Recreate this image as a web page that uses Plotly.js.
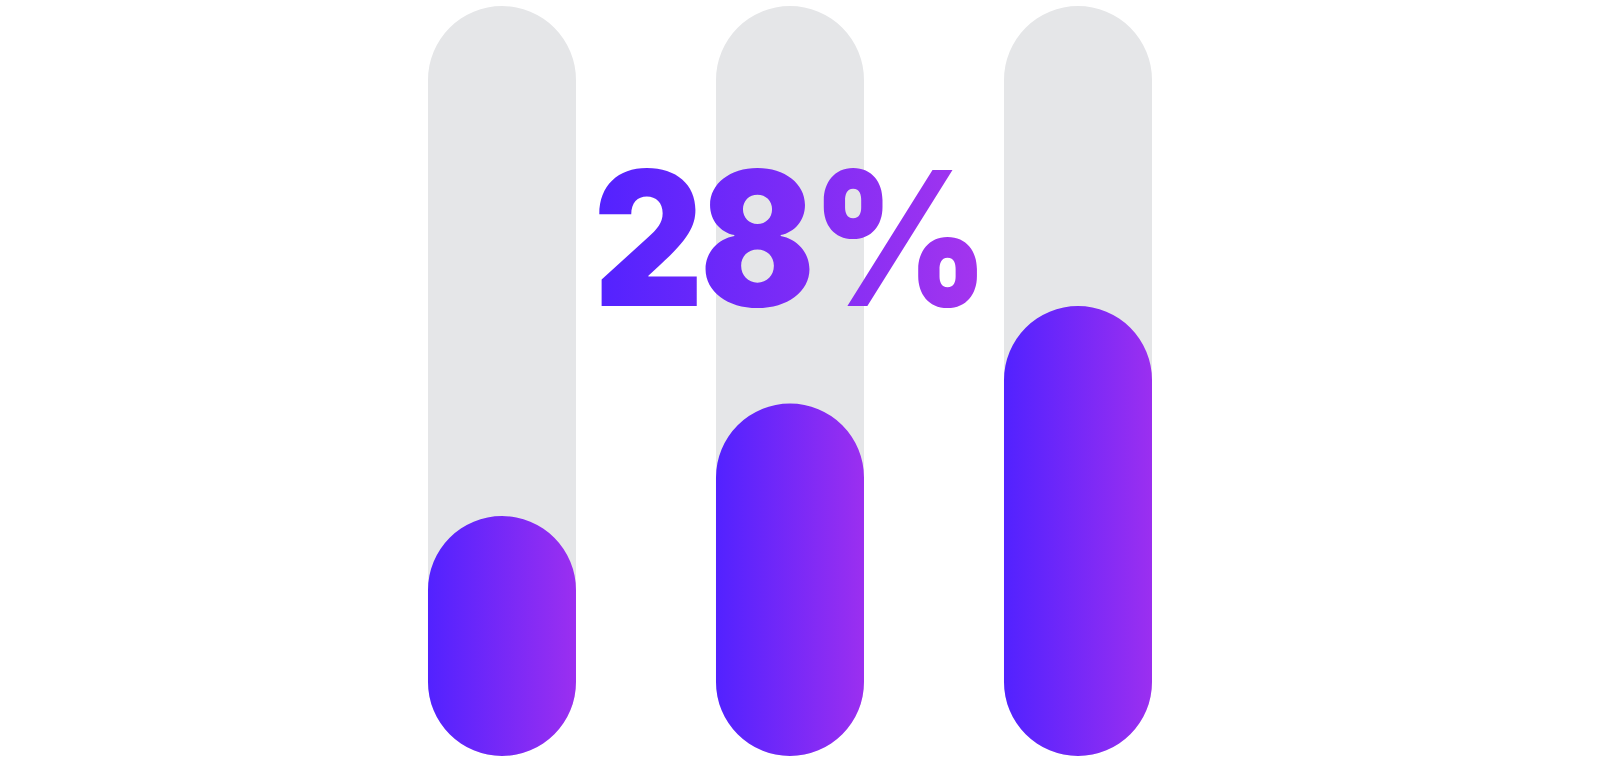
<!DOCTYPE html>
<html>
<head>
<meta charset="utf-8">
<script src="https://cdn.plot.ly/plotly-3.0.1.min.js"></script>
<style>
  html, body { margin: 0; padding: 0; background: #ffffff; }
  #chart { width: 1600px; height: 768px; }
</style>
</head>
<body>
<div id="chart"></div>
<script>
// ---- data ----
const categories = ['Bar 1', 'Bar 2', 'Bar 3'];
const trackValues = [100, 100, 100];
const fillValues = [32, 47, 60];
const headline = '28%';

const barWidth = 148 / 288;

function pill(values, color, name) {
  return {
    type: 'bar', x: categories, y: values, base: values.map(() => 0), width: barWidth,
    marker: { color: color, cornerradius: '50%', line: { width: 0 } },
    hoverinfo: 'skip', showlegend: false, name: name
  };
}

const data = [pill(trackValues, '#e5e6e8', 'track'), pill(fillValues, '#7a2bf8', 'fill')];

const layout = {
  width: 1600, height: 768,
  margin: { l: 0, r: 0, t: 6, b: 12 },
  paper_bgcolor: '#ffffff', plot_bgcolor: '#ffffff',
  barmode: 'overlay',
  xaxis: { type: 'category', range: [-1.743, 3.8125], showgrid: false, zeroline: false,
           showticklabels: false, showline: false, ticks: '', fixedrange: true },
  yaxis: { range: [0, 100], showgrid: false, zeroline: false, showticklabels: false,
           showline: false, ticks: '', fixedrange: true },
  annotations: [{
    text: headline, xref: 'x', yref: 'y', x: 1, y: 69.07,
    xanchor: 'center', yanchor: 'middle', showarrow: false,
    font: { family: 'Inter, "Open Sans", sans-serif', size: 187, weight: 900, color: '#7a2bf8' }
  }]
};

Plotly.newPlot('chart', data, layout, { staticPlot: true, displayModeBar: false }).then(function (gd) {
  const svgNS = 'http://www.w3.org/2000/svg';
  const defs = gd.querySelector('.main-svg defs');
  function grad(id, c1, c2) {
    const g = document.createElementNS(svgNS, 'linearGradient');
    g.setAttribute('id', id);
    g.setAttribute('x1', '0'); g.setAttribute('y1', '0');
    g.setAttribute('x2', '1'); g.setAttribute('y2', '0');
    [[0, c1], [1, c2]].forEach(function (s) {
      const st = document.createElementNS(svgNS, 'stop');
      st.setAttribute('offset', s[0]);
      st.setAttribute('stop-color', s[1]);
      g.appendChild(st);
    });
    defs.appendChild(g);
  }
  grad('barGrad', '#5222ff', '#9b2ff0');
  grad('textGrad', '#5222ff', '#a535ee');
  const traces = gd.querySelectorAll('.barlayer .trace');
  for (let i = 1; i < traces.length; i++) {
    traces[i].querySelectorAll('path').forEach(function (p) { p.style.fill = 'url(#barGrad)'; });
  }
  gd.querySelectorAll('.annotation-text').forEach(function (tx) {
    tx.style.fill = 'url(#textGrad)';
    tx.style.letterSpacing = '-4px';
    tx.style.transformBox = 'fill-box';
    tx.style.transformOrigin = 'center';
    tx.style.transform = 'scaleX(0.91)';
  });
});
</script>
</body>
</html>
